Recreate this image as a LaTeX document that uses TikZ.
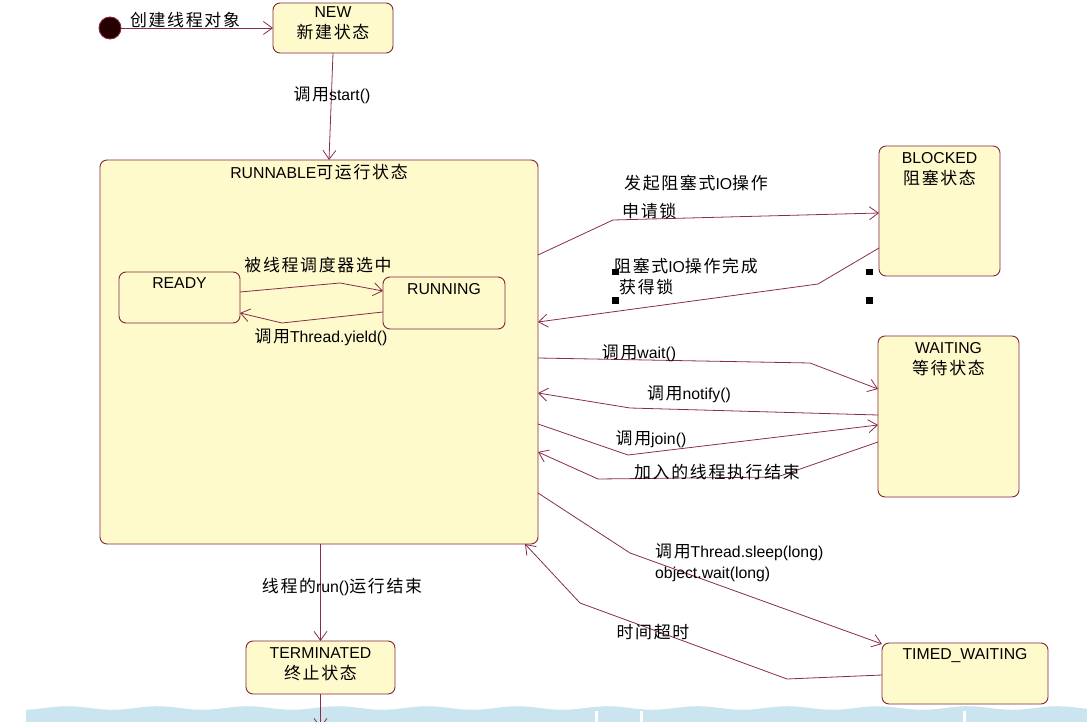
\documentclass[tikz,border=0pt]{standalone}
\usepackage{fontspec}
\setmainfont{Liberation Sans}
\newfontfamily\cjk[LetterSpace=10,Scale=1.07]{Noto Sans CJK SC}
\newcommand\zh[1]{{\cjk #1}}
\usetikzlibrary{arrows.meta,calc}
\definecolor{bd}{RGB}{128,38,58}
\definecolor{ln}{RGB}{135,45,70}
\definecolor{bx}{RGB}{255,250,204}
\definecolor{band}{RGB}{202,229,239}
\tikzset{
  state/.style={draw=bd, fill=bx, rounded corners=7pt, line width=0.9pt, inner sep=0pt, outer sep=0pt},
  title/.style={align=center, anchor=north, inner sep=0pt, font=\fontsize{15.8}{21}\selectfont},
  lab/.style={inner sep=0pt},
  arr/.style={draw=ln, line width=0.8pt, -{Straight Barb[length=9pt,width=13pt]}},
  handle/.style={fill=black, inner sep=0pt, minimum size=6.5pt},
}
\begin{document}
\begin{tikzpicture}[x=1pt,y=-1pt,font=\fontsize{15.8}{19}\selectfont]
\useasboundingbox (0,0) rectangle (1087,722);
% bottom band
\fill[band] (26,722) -- plot[domain=26:1087,samples=140] (\x,{708+1.8*sin(\x*4)}) -- (1087,722) -- cycle;
\fill[white] (595,711) rectangle (598,722);
\fill[white] (640,711) rectangle (643,722);
\fill[white] (963,711) rectangle (966,722);

% states
\node[circle, fill=black!85!red, draw=bd, line width=0.9pt, minimum size=22pt, inner sep=0pt] (init) at (110,28) {};
\node[state, minimum width=120pt, minimum height=50pt,
  label={[title,name=newT,yshift=-3pt]north:NEW\\\zh{新建状态}}] (new) at (333,28) {};
\node[state, minimum width=438pt, minimum height=384pt,
  label={[title,name=runnableT,yshift=-4pt]north:RUNNABLE\zh{可运行状态}}] (runnable) at (319,352) {};
\node[state, minimum width=121pt, minimum height=51pt,
  label={[title,name=readyT,yshift=-5pt]north:READY}] (ready) at (179.5,297.5) {};
\node[state, minimum width=122pt, minimum height=52pt,
  label={[title,name=runningT,yshift=-6pt]north:RUNNING}] (running) at (444,303) {};
\node[state, minimum width=121pt, minimum height=130pt,
  label={[title,name=blockedT,yshift=-6pt]north:BLOCKED\\\zh{阻塞状态}}] (blocked) at (939.5,211) {};
\node[state, minimum width=141pt, minimum height=161pt,
  label={[title,name=waitingT,yshift=-6pt]north:WAITING\\\zh{等待状态}}] (waiting) at (948.5,416.5) {};
\node[state, minimum width=166pt, minimum height=61pt,
  label={[title,name=timedT,yshift=-5pt]north:TIMED\_WAITING}] (timed) at (965,673.5) {};
\node[state, minimum width=149pt, minimum height=53pt,
  label={[title,name=termT,yshift=-6pt]north:TERMINATED\\\zh{终止状态}}] (term) at (320.5,667.5) {};
\coordinate (tend) at (320.5,728);

% connectors
\draw[arr] (init) -- (new);
\node[lab] (l1) at (185,20) {\zh{创建线程对象}};

\draw[arr] (new.south) -- ($(runnable.north west)+(229,0)$);
\node[lab] (l2) at (332,95) {\zh{调用}start()};

\draw[arr] ($(ready.north east)+(0,20)$) -- (340,283) -- ($(running.north west)+(0,14)$);
\node[lab] (l3) at (318,265) {\zh{被线程调度器选中}};
\draw[arr] ($(running.north west)+(0,35)$) -- (282,323) -- ($(ready.north east)+(0,41)$);
\node[lab] (l4) at (321,337) {\zh{调用}Thread.yield()};

\draw[arr] ($(runnable.north east)+(0,95)$) -- (613,220) -- ($(blocked.north west)+(0,67)$);
\node[lab,anchor=west] (l5) at (624,183) {\zh{发起阻塞式}IO\zh{操作}};
\node[lab,anchor=west] (l6) at (622,211) {\zh{申请锁}};
\draw[arr] ($(blocked.north west)+(0,102)$) -- (818,284) -- ($(runnable.north east)+(0,162)$);
\node[lab,anchor=west] (l7) at (614,266) {\zh{阻塞式}IO\zh{操作完成}};
\node[lab,anchor=west] (l8) at (619,287) {\zh{获得锁}};
\node[handle] (h1) at (615.5,272) {};
\node[handle] (h2) at (615.5,300.5) {};
\node[handle] (h3) at (869.5,272) {};
\node[handle] (h4) at (869.5,300.5) {};

\draw[arr] ($(runnable.north east)+(0,198)$) -- (810,363) -- ($(waiting.north west)+(0,53)$);
\node[lab] (l9) at (639,353) {\zh{调用}wait()};
\draw[arr] ($(waiting.north west)+(0,79)$) -- (630,408) -- ($(runnable.north east)+(0,233)$);
\node[lab] (l10) at (689,394) {\zh{调用}notify()};
\draw[arr] ($(runnable.north east)+(0,264)$) -- (628,455) -- ($(waiting.north west)+(0,89)$);
\node[lab] (l11) at (651,439) {\zh{调用}join()};
\draw[arr] ($(waiting.north west)+(0,106)$) -- (777,477) -- (598,479) -- ($(runnable.north east)+(0,292)$);
\node[lab] (l12) at (717,472) {\zh{加入的线程执行结束}};

\draw[arr] ($(runnable.north east)+(0,333)$) -- (630,553) -- ($(timed.north west)+(0,1)$);
\node[lab,anchor=west] (l13) at (655,552) {\zh{调用}Thread.sleep(long)};
\node[lab,anchor=west] (l14) at (655,574) {object.wait(long)};
\draw[arr] ($(timed.north west)+(0,32)$) -- (787,679) -- (580,603) -- ($(runnable.south east)+(-13,0)$);
\node[lab] (l15) at (653,632) {\zh{时间超时}};

\draw[arr] ($(runnable.south west)+(220.5,0)$) -- (term.north);
\node[lab] (l16) at (342,587) {\zh{线程的}run()\zh{运行结束}};
\draw[arr] (term.south) -- (tend);
\end{tikzpicture}
\end{document}
